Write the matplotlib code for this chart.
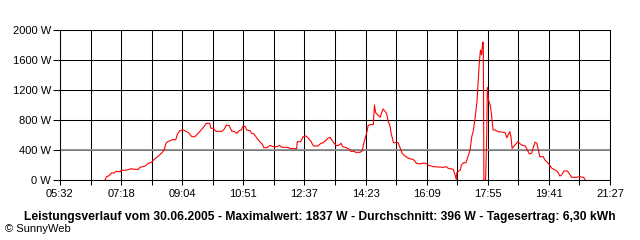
"""SunnyWeb Leistungsverlauf 30.06.2005 -> out.png"""
import numpy as np
import matplotlib; matplotlib.use('Agg'); import matplotlib.pyplot as plt

# minutes since midnight / power in W
minutes = [410, 413, 417, 422, 425, 429, 436, 439, 448, 456, 461, 468, 471, 480, 485, 491, 496, 503,
           509, 513, 516, 519, 527, 533, 536, 540, 546, 550, 555, 561, 566, 572, 578, 583, 586, 592,
           594, 598, 603, 613, 617, 621, 626, 630, 635, 639, 643, 647, 650, 654, 656, 662, 665, 669,
           674, 679, 683, 686, 691, 697, 702, 709, 713, 717, 727, 733, 743, 744, 750, 754, 759, 763,
           768, 772, 780, 785, 789, 793, 797, 801, 804, 808, 812, 817, 820, 823, 827, 833, 837, 843,
           845, 853, 857, 859, 862, 865, 867, 870, 876, 878, 880, 884, 888, 891, 893, 896, 899, 902,
           905, 907, 911, 919, 924, 926, 931, 937, 945, 948, 951, 957, 963, 967, 971, 980, 998, 1003,
           1006, 1009, 1015, 1018, 1020, 1021, 1027, 1029, 1033, 1037, 1044, 1047, 1050, 1053, 1056,
           1058, 1060, 1062, 1064, 1066, 1067, 1068, 1071, 1073, 1074, 1076, 1079, 1081, 1084, 1087,
           1093, 1102, 1105, 1108, 1112, 1113, 1115, 1117, 1122, 1127, 1133, 1140, 1143, 1147, 1151,
           1154, 1157, 1160, 1163, 1165, 1171, 1174, 1180, 1186, 1192, 1196, 1200, 1203, 1207, 1213,
           1218, 1220, 1229, 1233, 1241, 1244]
watts = [0, 44, 57, 97, 89, 115, 111, 129, 133, 151, 142, 142, 169, 187, 222, 236, 280, 320,
         364, 400, 489, 511, 537, 537, 613, 657, 667, 653, 631, 577, 577, 622, 675, 720, 756, 756,
         689, 689, 649, 649, 676, 733, 724, 653, 644, 622, 657, 667, 720, 711, 667, 657, 622, 613,
         556, 511, 480, 431, 431, 462, 444, 444, 462, 436, 436, 418, 418, 511, 511, 577, 587, 560,
         511, 453, 453, 489, 498, 524, 556, 569, 533, 489, 458, 467, 489, 444, 436, 418, 382, 382,
         369, 369, 391, 480, 556, 644, 724, 738, 738, 1000, 898, 867, 836, 911, 947, 920, 889, 778,
         720, 622, 498, 498, 400, 356, 320, 289, 275, 253, 222, 215, 225, 222, 200, 178, 169, 178,
         156, 151, 142, 67, 9, 98, 133, 200, 231, 231, 400, 578, 667, 844, 1044,
         1289, 1556, 1733, 1667, 1837, 1837, 0, 0, 622, 1236, 1067, 1000, 889, 667, 667,
         644, 636, 631, 564, 631, 644, 578, 422, 467, 511, 467, 453, 409, 347, 356,
         444, 504, 489, 387, 311, 311, 267, 222, 156, 133, 111, 53, 67, 120, 120,
         67, 36, 36, 44, 36, 0]
tick_labels = ['05:32', '07:18', '09:04', '10:51', '12:37', '14:23', '16:09', '17:55', '19:41', '21:27']
y_ticks = [0, 400, 800, 1200, 1600, 2000]
t_start, t_end = 332, 1287
avg_w = 396
title = 'Leistungsverlauf vom 30.06.2005 - Maximalwert: 1837 W - Durchschnitt: 396 W - Tagesertrag: 6,30 kWh'

plt.rcParams.update({'font.family': ['Liberation Sans', 'DejaVu Sans'], 'font.size': 8})
fig = plt.figure(figsize=(6.4, 2.4), dpi=100)
ax = fig.add_axes([60/640, 60/240, 550/640, 150/240])
ax.set_xlim(t_start, t_end); ax.set_ylim(0, 2000)

grid_x = np.linspace(t_start, t_end, 19)
for gx in grid_x: ax.axvline(gx, color='black', lw=0.75, zorder=1)
for gy in y_ticks: ax.axhline(gy, color='black', lw=0.75, zorder=1)
ax.axhline(avg_w, color='#8c8c8c', lw=1.3, zorder=2)
ax.plot(minutes, watts, color='#ff0000', lw=0.8, zorder=3)

ax.set_xticks(np.linspace(t_start, t_end, len(tick_labels))); ax.set_xticklabels(tick_labels)
ax.set_xticks(grid_x, minor=True)
ax.set_yticks(y_ticks); ax.set_yticklabels([f'{v} W' for v in y_ticks])
ax.tick_params(axis='y', length=5, width=0.75, pad=1.5, labelsize=8)
ax.tick_params(axis='x', which='both', length=3.5, width=0.75, pad=3, labelsize=8)
for s in ax.spines.values(): s.set_linewidth(0.75); s.set_color('black')

fig.text(320/640, 1-217/240, title, ha='center', va='center', fontsize=8.7, fontweight='bold')
fig.text(5/640, 1-229/240, '© SunnyWeb', ha='left', va='center', fontsize=8)
fig.savefig('out.png', dpi=100)
